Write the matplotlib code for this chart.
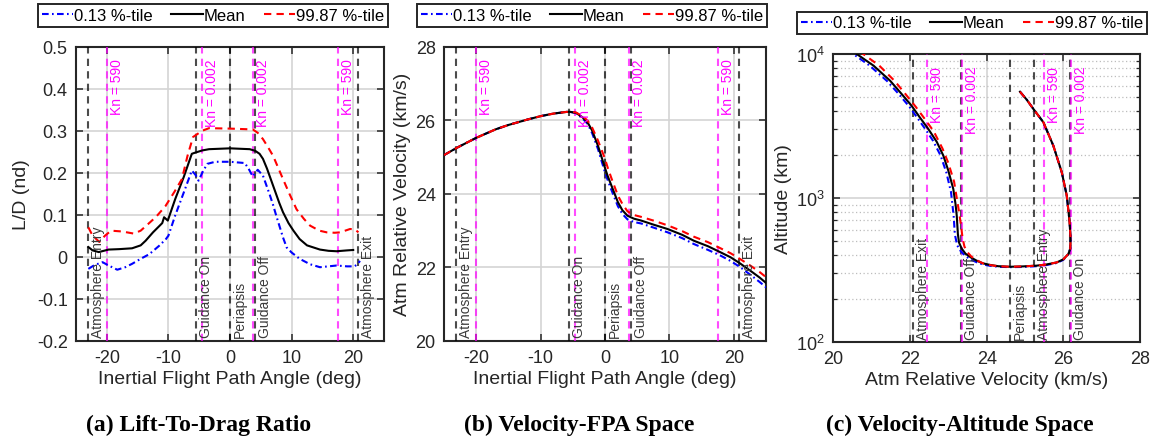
import matplotlib
matplotlib.use('Agg')
import matplotlib.pyplot as plt
from matplotlib.ticker import LogLocator, NullFormatter

plt.rcParams['font.family'] = ['Liberation Sans', 'DejaVu Sans']
plt.rcParams['mathtext.fontset'] = 'custom'
plt.rcParams['mathtext.rm'] = 'Liberation Sans'
plt.rcParams['mathtext.it'] = 'Liberation Sans'

# ---------------- data ----------------
LEGEND_LABELS = ['0.13 %-tile', 'Mean', '99.87 %-tile']
SUBTITLES = ['(a) Lift-To-Drag Ratio', '(b) Velocity-FPA Space', '(c) Velocity-Altitude Space']

# events on the flight-path-angle axis
FPA_EVENT_X = [-23.1, -5.55, 0.0, 4.1, 20.75]
FPA_EVENT_LABELS = ['Atmosphere Entry', 'Guidance On', 'Periapsis', 'Guidance Off', 'Atmosphere Exit']
FPA_KN_X = [-20.0, -4.6, 3.75, 17.6]
FPA_KN_LABELS = ['Kn = 590', 'Kn = 0.002', 'Kn = 0.002', 'Kn = 590']

# events on the velocity axis
VEL_EVENT_X = [22.09, 23.33, 24.6, 25.24, 26.18]
VEL_EVENT_LABELS = ['Atmosphere Exit', 'Guidance Off', 'Periapsis', 'Atmosphere Entry', 'Guidance On']
VEL_KN_X = [22.44, 23.36, 25.5, 26.2]
VEL_KN_LABELS = ['Kn = 590', 'Kn = 0.002', 'Kn = 590', 'Kn = 0.002']

# (a) L/D vs FPA
LD_LO_FPA = [-23.0, -22.0, -20.7, -19.7, -18.3, -17.0, -15.9, -14.5, -13.1, -11.5, -10.4, -10.0, -8.9, -7.3,
             -6.2, -5.6, -5.1, -4.5, -3.7, -2.4, 0.0, 2.4, 3.0, 3.7, 4.5, 5.35, 6.44, 7.0, 7.5, 8.6, 9.2,
             10.0, 11.3, 13.0, 14.6, 16.0, 17.3, 19.0, 20.2, 20.7, 21.1]
LD_LO = [-0.029, -0.02, -0.013, -0.021, -0.031, -0.025, -0.017, -0.005, 0.006, 0.026, 0.042, 0.05, 0.098, 0.161,
         0.205, 0.195, 0.181, 0.2, 0.221, 0.226, 0.226, 0.223, 0.21, 0.191, 0.207, 0.193, 0.148, 0.123, 0.098,
         0.046, 0.022, 0.01, -0.005, -0.018, -0.025, -0.023, -0.021, -0.023, -0.023, -0.018, -0.01]

LD_MEAN_FPA = [-23.0, -22.3, -21.3, -19.7, -18.0, -15.9, -14.5, -13.7, -12.5, -11.0, -10.7, -10.1, -8.9, -7.5,
               -6.2, -5.6, -4.5, -3.4, 0.0, 3.2, 4.1, 4.8, 5.35, 6.0, 7.0, 8.0, 8.6, 9.5, 10.3, 11.3, 12.5,
               14.6, 16.0, 17.3, 19.0, 20.0]
LD_MEAN = [0.023, 0.015, 0.011, 0.017, 0.018, 0.02, 0.027, 0.038, 0.058, 0.08, 0.094, 0.086, 0.137, 0.19,
           0.245, 0.248, 0.253, 0.256, 0.258, 0.256, 0.252, 0.245, 0.233, 0.21, 0.169, 0.128, 0.106, 0.08,
           0.062, 0.042, 0.027, 0.017, 0.014, 0.013, 0.015, 0.016]

LD_HI_FPA = [-23.0, -22.3, -21.2, -20.3, -19.3, -17.5, -15.6, -14.5, -13.5, -12.0, -10.5, -9.0, -7.8, -6.9,
             -6.0, -5.0, -4.5, -3.4, 0.0, 3.7, 4.5, 5.35, 6.2, 7.0, 8.6, 9.7, 10.8, 12.0, 13.0, 14.5, 15.7,
             17.0, 17.9, 19.5, 20.3, 20.85]
LD_HI = [0.07, 0.05, 0.035, 0.05, 0.062, 0.06, 0.055, 0.062, 0.075, 0.095, 0.12, 0.155, 0.185, 0.24,
         0.285, 0.295, 0.3, 0.306, 0.305, 0.303, 0.295, 0.28, 0.26, 0.24, 0.185, 0.148, 0.113, 0.09, 0.074,
         0.062, 0.058, 0.057, 0.058, 0.066, 0.065, 0.058]

# (b) velocity vs FPA
VF_FPA = [-25, -23, -20, -17, -15, -12, -10, -8, -6, -5.5, -4.5, -3.5, -2.7, -2, -1.1, 0, 0.4, 1, 2, 2.7,
          3.5, 4.5, 5.6, 7.5, 9.7, 12, 13.8, 16, 18, 19.5, 21, 22.6, 24, 25.5]
VF_LO = [25.05, 25.25, 25.52, 25.75, 25.87, 26.02, 26.11, 26.18, 26.225, 26.23, 26.19, 26.05, 25.9, 25.65,
         25.22, 24.58, 24.38, 24.1, 23.66, 23.45, 23.3, 23.23, 23.19, 23.08, 22.95, 22.79, 22.63, 22.47,
         22.31, 22.17, 22.0, 21.79, 21.6, 21.38]
VF_MEAN = [25.05, 25.25, 25.52, 25.75, 25.87, 26.02, 26.11, 26.18, 26.225, 26.23, 26.2, 26.08, 25.94, 25.72,
           25.31, 24.7, 24.49, 24.22, 23.77, 23.55, 23.4, 23.32, 23.27, 23.16, 23.04, 22.88, 22.72, 22.57,
           22.4, 22.27, 22.1, 21.9, 21.72, 21.5]
VF_HI = [25.05, 25.25, 25.52, 25.75, 25.87, 26.02, 26.11, 26.18, 26.225, 26.23, 26.21, 26.11, 25.99, 25.8,
         25.45, 24.95, 24.72, 24.42, 23.95, 23.72, 23.52, 23.42, 23.37, 23.27, 23.14, 22.98, 22.83, 22.68,
         22.51, 22.38, 22.22, 22.04, 21.87, 21.66]

# (c) altitude vs velocity
VA_LO_V = [24.87, 25.05, 25.22, 25.48, 25.74, 25.96, 26.09, 26.16, 26.19, 26.18, 26.13, 26.0, 25.83, 25.55,
           25.3, 24.95, 24.61, 24.3, 24.09, 23.9, 23.74, 23.6, 23.45, 23.33, 23.23, 23.17, 23.14, 23.07,
           22.95, 22.8, 22.6, 22.4, 22.0, 21.7, 21.4, 20.95, 20.52, 20.4]
VA_LO_H = [5470, 4800, 4150, 3355, 2306, 1507, 1038, 700, 520, 443, 406, 372, 354, 342,
           336, 332, 331, 333, 338, 346, 358, 372, 395, 425, 470, 560, 750, 1100,
           1500, 1970, 2500, 3010, 4250, 5300, 6500, 8300, 10000, 10700]
VA_MEAN_V = [24.87, 25.05, 25.22, 25.48, 25.74, 25.96, 26.09, 26.16, 26.19, 26.18, 26.13, 26.0, 25.83, 25.55,
             25.3, 24.95, 24.61, 24.3, 24.09, 23.9, 23.74, 23.6, 23.45, 23.35, 23.28, 23.25, 23.22, 23.19,
             23.13, 23.0, 22.87, 22.7, 22.48, 22.25, 22.04, 21.75, 21.48, 21.05, 20.61, 20.5]
VA_MEAN_H = [5470, 4800, 4150, 3355, 2306, 1507, 1038, 700, 520, 443, 408, 375, 357, 345,
             339, 335, 333, 336, 343, 352, 367, 385, 410, 445, 490, 560, 754, 900,
             1155, 1550, 1970, 2450, 3010, 3650, 4380, 5400, 6530, 8300, 10000, 10600]
VA_HI_V = [24.87, 25.05, 25.22, 25.48, 25.74, 25.96, 26.09, 26.16, 26.19, 26.18, 26.13, 26.0, 25.83, 25.55,
           25.3, 24.95, 24.61, 24.3, 24.09, 23.9, 23.74, 23.6, 23.5, 23.42, 23.37, 23.33, 23.28, 23.22,
           23.15, 23.0, 22.85, 22.62, 22.4, 22.15, 21.9, 21.6, 21.2, 20.78, 20.6]
VA_HI_H = [5470, 4800, 4150, 3355, 2306, 1507, 1038, 700, 520, 443, 408, 375, 357, 345,
           339, 335, 333, 336, 342, 352, 370, 392, 420, 460, 530, 650, 800, 1000,
           1300, 1750, 2200, 2900, 3500, 4300, 5200, 6500, 8300, 10000, 10700]

# ---------------- styling ----------------
AX_COL = '#262626'
BLUE, BLACK, RED = '#0000ff', '#000000', '#ff0000'
MAG = '#ff00ff'
LW = 1.5
DASHDOT = (0, (3.2, 1.6, 0.8, 1.6))
DASHED = (0, (3.5, 2.5))

fig = plt.figure(figsize=(11.51, 4.39), dpi=100)
W, H = 1151, 439


def add_axes(l, r, t, b):
    return fig.add_axes([l / W, 1 - b / H, (r - l) / W, (b - t) / H])


axA = add_axes(76, 384, 47.7, 341.7)
axB = add_axes(444, 766, 47.7, 341.7)
axC = add_axes(833.3, 1140, 55, 343)


def style(ax):
    for s in ax.spines.values():
        s.set_linewidth(1.5)
        s.set_color(AX_COL)
    ax.tick_params(direction='in', top=True, right=True, length=5, width=1.1,
                   labelsize=13, colors=AX_COL, pad=6)
    ax.tick_params(which='minor', direction='in', top=True, right=True, length=3, width=0.9, colors=AX_COL)
    ax.set_axisbelow(True)


def plot_series(ax, xs, ys):
    lo = ax.plot(xs[0], ys[0], color=BLUE, ls=DASHDOT, lw=LW, zorder=4)[0]
    me = ax.plot(xs[1], ys[1], color=BLACK, ls='-', lw=LW, zorder=4)[0]
    hi = ax.plot(xs[2], ys[2], color=RED, ls=DASHED, lw=LW, zorder=4)[0]
    return [lo, me, hi]


def events(ax, bx, blabels, mx, mlabels):
    for x, lab in zip(bx, blabels):
        ax.axvline(x, color='k', alpha=0.7, lw=1.5, ls=DASHED, zorder=3)
        ax.annotate(lab, xy=(x, 0), xycoords=ax.get_xaxis_transform(), xytext=(2.2, 2.5),
                    textcoords='offset points', rotation=90, ha='left', va='bottom',
                    fontsize=10, color='#3a3a3a', zorder=5, annotation_clip=False)
    for x, lab in zip(mx, mlabels):
        ax.axvline(x, color=MAG, alpha=0.7, lw=1.5, ls=DASHED, zorder=3)
        ax.annotate(lab, xy=(x, 1), xycoords=ax.get_xaxis_transform(), xytext=(2.2, -8.5),
                    textcoords='offset points', rotation=90, ha='left', va='top',
                    fontsize=10, color=MAG, zorder=5, annotation_clip=False)


def legend(ax, handles, cx, cy):
    leg = ax.legend(handles, LEGEND_LABELS, loc='center', bbox_to_anchor=(cx / W, 1 - cy / H),
                    bbox_transform=fig.transFigure, ncol=3, frameon=True, fancybox=False,
                    edgecolor=AX_COL, handlelength=1.9, handletextpad=0.05, columnspacing=1.1,
                    borderpad=0.22, borderaxespad=0, fontsize=12)
    leg.get_frame().set_linewidth(1.4)
    leg.get_frame().set_alpha(None)
    for t in leg.get_texts():
        t.set_color('#000000')


GRID = dict(color='#d4d4d4', lw=1.2)

# ---- (a)
style(axA)
axA.grid(True, **GRID)
h = plot_series(axA, [LD_LO_FPA, LD_MEAN_FPA, LD_HI_FPA], [LD_LO, LD_MEAN, LD_HI])
events(axA, FPA_EVENT_X, FPA_EVENT_LABELS, FPA_KN_X, FPA_KN_LABELS)
axA.set_xlim(-25, 25)
axA.set_ylim(-0.2, 0.5)
axA.set_xticks([-20, -10, 0, 10, 20])
axA.set_yticks([-0.2, -0.1, 0, 0.1, 0.2, 0.3, 0.4, 0.5])
axA.set_yticklabels(['-0.2', '-0.1', '0', '0.1', '0.2', '0.3', '0.4', '0.5'])
axA.set_xticklabels(['-20', '-10', '0', '10', '20'])
axA.set_xlabel('Inertial Flight Path Angle (deg)', fontsize=14, color=AX_COL, labelpad=3)
axA.set_ylabel('L/D (nd)', fontsize=14, color=AX_COL, labelpad=5)
legend(axA, h, 213, 16.5)

# ---- (b)
style(axB)
axB.grid(True, **GRID)
h = plot_series(axB, [VF_FPA, VF_FPA, VF_FPA], [VF_LO, VF_MEAN, VF_HI])
events(axB, FPA_EVENT_X, FPA_EVENT_LABELS, FPA_KN_X, FPA_KN_LABELS)
axB.set_xlim(-25, 25)
axB.set_ylim(20, 28)
axB.set_xticks([-20, -10, 0, 10, 20])
axB.set_xticklabels(['-20', '-10', '0', '10', '20'])
axB.set_yticks([20, 22, 24, 26, 28])
axB.set_xlabel('Inertial Flight Path Angle (deg)', fontsize=14, color=AX_COL, labelpad=3)
axB.set_ylabel('Atm Relative Velocity (km/s)', fontsize=14, color=AX_COL, labelpad=3)
legend(axB, h, 592, 16.5)

# ---- (c)
style(axC)
axC.set_yscale('log')
axC.set_xlim(20, 28)
axC.set_ylim(100, 10000)
axC.set_xticks([20, 22, 24, 26, 28])
axC.yaxis.set_major_locator(LogLocator(base=10, numticks=5))
axC.yaxis.set_minor_locator(LogLocator(base=10, subs=range(2, 10), numticks=20))
axC.yaxis.set_minor_formatter(NullFormatter())
axC.grid(True, which='major', **GRID)
axC.grid(True, which='minor', axis='y', color='#bdbdbd', lw=0.9, ls=(0, (1, 2)))
h = plot_series(axC, [VA_LO_V, VA_MEAN_V, VA_HI_V], [VA_LO_H, VA_MEAN_H, VA_HI_H])
events(axC, VEL_EVENT_X, VEL_EVENT_LABELS, VEL_KN_X, VEL_KN_LABELS)
axC.set_xlabel('Atm Relative Velocity (km/s)', fontsize=14, color=AX_COL, labelpad=3)
axC.set_ylabel('Altitude (km)', fontsize=14, color=AX_COL, labelpad=3)
legend(axC, h, 972, 24)

# ---- subtitles
for cx, t in zip([199, 579, 960], SUBTITLES):
    fig.text(cx / W, 1 - 425 / H, t, ha='center', va='center', fontsize=17,
             fontweight='bold', family='Liberation Serif', color='black')

fig.savefig('out.png', dpi=100)
